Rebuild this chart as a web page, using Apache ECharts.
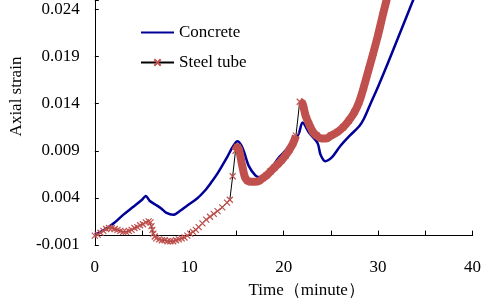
<!DOCTYPE html>
<html>
<head>
<meta charset="utf-8">
<script src="https://cdn.jsdelivr.net/npm/echarts@6/dist/echarts.min.js"></script>
<style>
  html, body { margin: 0; padding: 0; background: #fff; }
  #chart { width: 484px; height: 304px; }
</style>
</head>
<body>
<div id="chart"></div>
<script>
// concrete strain
const concreteTime = [0, 1, 2, 3, 4, 5, 5.4, 5.8, 6.4, 7, 7.6, 8.3, 9, 9.8, 10.8, 11.6, 12.3, 13, 14, 14.6, 15.1, 15.5, 15.8, 16.3, 17, 17.5, 18.3, 19.6, 21, 21.6, 22, 22.7, 23.6, 23.9, 24.4, 25.1, 26, 27, 28, 28.5, 29.2, 30, 31, 32, 33, 33.8, 34.2]
const concreteStrain = [0.0001, 0.0006, 0.0013, 0.0022, 0.003, 0.0038, 0.0042, 0.0037, 0.0033, 0.0029, 0.0024, 0.0022, 0.0026, 0.0032, 0.0039, 0.0047, 0.0056, 0.0066, 0.0083, 0.0094, 0.01, 0.0096, 0.0089, 0.0074, 0.0064, 0.0062, 0.0067, 0.0084, 0.0099, 0.0108, 0.012, 0.0109, 0.0098, 0.0086, 0.0079, 0.0083, 0.0095, 0.0106, 0.0116, 0.0124, 0.014, 0.0158, 0.0182, 0.0207, 0.0232, 0.0252, 0.0262]

// steel tube strain
const steelTime = [0, 0.3, 0.6, 0.9, 1.2, 1.5, 1.8, 2.1, 2.4, 2.7, 3.0, 3.3, 3.6, 3.9, 4.2, 4.5, 4.8, 5.1, 5.4, 5.7, 5.9, 6.0, 6.1, 6.2, 6.35, 6.5, 6.8, 7.1, 7.4, 7.7, 8.0, 8.3, 8.6, 8.9, 9.2, 9.5, 9.8, 10.1, 10.4, 10.7, 11.0, 11.4, 11.8, 12.2, 12.6, 13.0, 13.5, 14.0, 14.3, 14.6, 14.9, 15.1, 15.3, 15.5, 15.7, 15.9, 16.2, 16.6, 17.0, 17.4, 17.8, 18.2, 18.6, 19.0, 19.4, 19.8, 20.2, 20.6, 21.0, 21.3, 21.7, 22.0, 22.3, 22.7, 23.1, 23.5, 24.0, 24.5, 25.0, 25.7, 26.3, 26.9, 27.5, 28.0, 28.5, 29.0, 29.5, 30.0, 30.5, 31.0]
const steelStrain = [0.0, 0.0001, 0.0003, 0.0005, 0.0007, 0.0008, 0.0008, 0.0007, 0.0006, 0.0005, 0.0004, 0.0004, 0.0005, 0.0006, 0.0008, 0.0009, 0.0011, 0.0012, 0.0014, 0.0015, 0.0014, 0.001, 0.0006, 0.0002, -0.0001, -0.0003, -0.0004, -0.0005, -0.0005, -0.0006, -0.0006, -0.0006, -0.0005, -0.0004, -0.0003, -0.0002, 0.0, 0.0002, 0.0004, 0.0006, 0.0009, 0.0013, 0.0017, 0.002, 0.0023, 0.0026, 0.003, 0.0035, 0.0038, 0.0063, 0.009, 0.0094, 0.009, 0.008, 0.007, 0.0062, 0.0058, 0.0057, 0.0057, 0.0058, 0.0061, 0.0064, 0.0068, 0.0072, 0.0076, 0.008, 0.0085, 0.0091, 0.0098, 0.0106, 0.0142, 0.014, 0.0128, 0.0118, 0.011, 0.0106, 0.0103, 0.0103, 0.0106, 0.011, 0.0115, 0.0122, 0.0131, 0.0142, 0.0158, 0.0176, 0.0194, 0.0213, 0.0234, 0.0254]

// time spans where the markers pile up into a solid band
const bandSpans = [[14.9, 21.3], [21.7, 31]]

const yTicks = ['-0.001', '0.004', '0.009', '0.014', '0.019', '0.024']
const xTicks = ['0', '10', '20', '30', '40']

const font = 'Liberation Serif'
const red = '#C0504D'
const blue = '#000099'

const concreteData = concreteTime.map((t, i) => [t, concreteStrain[i]])
const steelData = steelTime.map((t, i) => [t, steelStrain[i]])
const bandData = []
bandSpans.forEach(([a, b], k) => {
  if (k > 0) bandData.push(['-', '-'])
  steelData.forEach(p => { if (p[0] >= a && p[0] <= b) bandData.push(p) })
})

const chart = echarts.init(document.getElementById('chart'))

chart.setOption({
  animation: false,
  grid: { left: 78, right: 9, top: 0, bottom: 49 },
  legend: {
    left: 140,
    top: 24,
    padding: 0,
    orient: 'vertical',
    itemWidth: 33,
    itemHeight: 8,
    itemGap: 13,
    data: [
      { name: 'Concrete', itemStyle: { opacity: 0 } },
      { name: 'Steel tube' }
    ],
    textStyle: { fontFamily: font, fontSize: 17, color: '#000' }
  },
  xAxis: {
    type: 'value',
    min: 0,
    max: 40,
    interval: 5,
    name: 'Time（minute）',
    nameLocation: 'middle',
    nameGap: 37,
    nameTextStyle: { fontFamily: font, fontSize: 17, color: '#000', padding: [0, 0, 0, 46] },
    axisLine: { lineStyle: { color: '#000', width: 1 } },
    axisTick: { inside: true, length: 5, lineStyle: { color: '#000' } },
    axisLabel: {
      margin: 14,
      fontFamily: font,
      fontSize: 17,
      color: '#000',
      formatter: v => xTicks.includes(String(v)) ? String(v) : ''
    },
    splitLine: { show: false }
  },
  yAxis: {
    type: 'value',
    min: -0.001,
    max: 0.025,
    interval: 0.005,
    name: 'Axial strain',
    nameLocation: 'middle',
    nameGap: 63,
    nameTextStyle: { fontFamily: font, fontSize: 17, color: '#000', padding: [0, 0, 0, 52] },
    axisLine: { show: true, lineStyle: { color: '#000', width: 1 } },
    axisTick: { show: true, inside: true, length: 4, lineStyle: { color: '#000' } },
    axisLabel: {
      margin: 15,
      fontFamily: font,
      fontSize: 17,
      color: '#000',
      formatter: v => {
        const s = v.toFixed(3)
        return yTicks.includes(s) ? s : ''
      }
    },
    splitLine: { show: false }
  },
  series: [
    {
      name: 'Concrete',
      type: 'line',
      data: concreteData,
      smooth: 0.3,
      symbol: 'none',
      clip: true,
      lineStyle: { color: blue, width: 2.5 },
      itemStyle: { color: blue },
      z: 2
    },
    {
      name: 'Steel tube',
      type: 'line',
      data: steelData,
      symbol: 'path://M0,0L10,10M10,0L0,10',
      symbolSize: 6,
      showAllSymbol: true,
      clip: true,
      lineStyle: { color: '#000', width: 1 },
      itemStyle: { color: 'rgba(0,0,0,0)', borderColor: red, borderWidth: 1.2 },
      z: 3
    },
    {
      name: 'Steel band',
      type: 'line',
      data: bandData,
      smooth: 0.3,
      symbol: 'none',
      silent: true,
      clip: true,
      lineStyle: { color: red, width: 8 },
      z: 4
    }
  ]
})
</script>
</body>
</html>
